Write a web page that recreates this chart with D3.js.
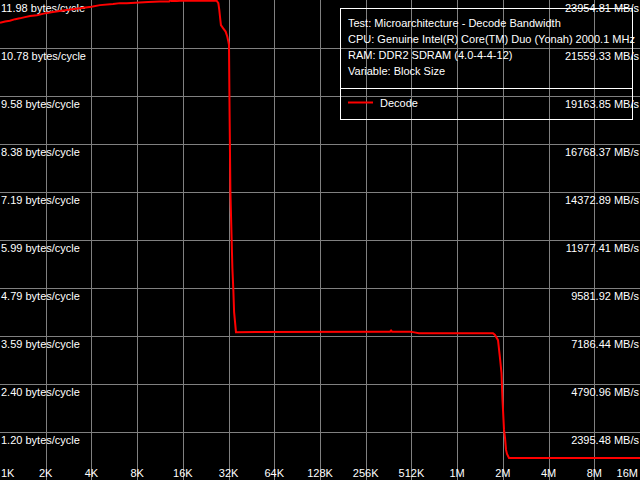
<!DOCTYPE html>
<html>
<head>
<meta charset="utf-8">
<script src="https://cdn.jsdelivr.net/npm/d3@7"></script>
<style>
  html, body { margin: 0; padding: 0; background: #000; }
  svg { display: block; }
  text { font-family: "Liberation Sans", Arial, sans-serif; font-size: 11px; fill: #fff; }
</style>
</head>
<body>
<svg id="chart" width="640" height="480"></svg>
<script>
// ---- data ----
const xTickSizesKB = [1, 2, 4, 8, 16, 32, 64, 128, 256, 512, 1024, 2048, 4096, 8192, 16384];
const xTickLabels = ["1K", "2K", "4K", "8K", "16K", "32K", "64K", "128K", "256K", "512K", "1M", "2M", "4M", "8M", "16M"];
const yTickValues = [11.978, 10.780, 9.582, 8.384, 7.186, 5.989, 4.791, 3.593, 2.396, 1.198];
const yLeftLabels = ["11.98 bytes/cycle", "10.78 bytes/cycle", "9.58 bytes/cycle", "8.38 bytes/cycle", "7.19 bytes/cycle",
                     "5.99 bytes/cycle", "4.79 bytes/cycle", "3.59 bytes/cycle", "2.40 bytes/cycle", "1.20 bytes/cycle"];
const yRightLabels = ["23954.81 MB/s", "21559.33 MB/s", "19163.85 MB/s", "16768.37 MB/s", "14372.89 MB/s",
                      "11977.41 MB/s", "9581.92 MB/s", "7186.44 MB/s", "4790.96 MB/s", "2395.48 MB/s"];
const legendInfo = ["Test: Microarchitecture - Decode Bandwidth",
                    "CPU: Genuine Intel(R) Core(TM) Duo (Yonah) 2000.1 MHz",
                    "RAM: DDR2 SDRAM (4.0-4-4-12)",
                    "Variable: Block Size"];
const seriesName = "Decode";
// block size (KB) and bandwidth (bytes/cycle)
const blockSizesKB = [1, 1.08, 1.16, 1.26, 1.35, 1.46, 1.58, 1.75, 2.0, 2.23, 2.75, 3.36, 4.0, 4.55, 5.55, 6.17,
  6.83, 9.47, 11.3, 13.0, 13.2, 13.5, 14.6, 15.3, 26.7, 27.4, 27.8, 28.1, 28.5, 29.5, 30.6, 31.4, 31.9,
  32.2, 32.5, 32.9, 33.4, 33.9, 34.4, 34.8, 35.3, 35.8, 318, 370, 376, 382, 505, 524, 574, 1763, 1818, 1903,
  1961, 2006, 2037, 2084, 2116, 2149, 2181, 2248, 16384];
const decodeValues = [11.41, 11.44, 11.46, 11.50, 11.52, 11.55, 11.58, 11.60, 11.65, 11.68, 11.73, 11.77, 11.81, 11.85, 11.88, 11.90,
  11.90, 11.93, 11.94, 11.94, 11.97, 11.95, 11.95, 11.96, 11.96, 11.90, 11.73, 11.56, 11.35, 11.27, 11.19, 11.06, 10.94,
  10.86, 9.11, 7.19, 6.24, 5.29, 4.74, 4.19, 3.94, 3.69, 3.70, 3.70, 3.73, 3.70, 3.70, 3.69, 3.66, 3.66, 3.62, 3.49,
  3.04, 2.67, 2.00, 1.25, 1.05, 0.75, 0.65, 0.55, 0.55];

// ---- drawing ----
const W = 640, H = 480;
const svg = d3.select("#chart");
svg.append("rect").attr("width", W).attr("height", H).attr("fill", "#000");

const x = d3.scaleLog().base(2).domain([1, 16384]).range([0, W]);
const y = d3.scaleLinear().domain([0, 11.978]).range([H, 0]);

// grid
const grid = svg.append("g").attr("stroke", "#808080").attr("stroke-width", 1).attr("shape-rendering", "crispEdges");
xTickSizesKB.slice(1, -1).forEach(v => {
  const px = Math.round(x(v)) + 0.5;
  grid.append("line").attr("x1", px).attr("x2", px).attr("y1", 0).attr("y2", H);
});
yTickValues.slice(1).forEach(v => {
  const py = Math.round(y(v)) + 0.5;
  grid.append("line").attr("x1", 0).attr("x2", W).attr("y1", py).attr("y2", py);
});

// y labels
yTickValues.forEach((v, i) => {
  const py = Math.round(y(v));
  svg.append("text").attr("x", 1).attr("y", py + 12).text(yLeftLabels[i]);
  svg.append("text").attr("x", 639).attr("y", py + 12).attr("text-anchor", "end").text(yRightLabels[i]);
});

// x labels
xTickSizesKB.forEach((v, i) => {
  const px = x(v);
  let anchor = "middle", tx = px;
  if (i === 0) { anchor = "start"; tx = 1; }
  else if (i === xTickSizesKB.length - 1) { anchor = "end"; tx = 638; }
  svg.append("text").attr("x", tx).attr("y", 477).attr("text-anchor", anchor).text(xTickLabels[i]);
});

// series line
const line = d3.line().x((d, i) => x(blockSizesKB[i])).y(d => y(d)).curve(d3.curveLinear);
svg.append("path").datum(decodeValues)
  .attr("d", line)
  .attr("fill", "none")
  .attr("stroke", "#ff0000")
  .attr("stroke-width", 2)
  .attr("stroke-linejoin", "miter");

// legend box
const lg = svg.append("g");
lg.append("rect").attr("x", 340.5).attr("y", 8.5).attr("width", 292).attr("height", 111)
  .attr("fill", "none").attr("stroke", "#fff").attr("stroke-width", 1);
lg.append("line").attr("x1", 340.5).attr("x2", 632.5).attr("y1", 88.5).attr("y2", 88.5)
  .attr("stroke", "#fff").attr("stroke-width", 1);
legendInfo.forEach((t, i) => {
  lg.append("text").attr("x", 348).attr("y", 27 + i * 16).text(t);
});
lg.append("line").attr("x1", 348).attr("x2", 373).attr("y1", 102.5).attr("y2", 102.5)
  .attr("stroke", "#ff0000").attr("stroke-width", 2);
lg.append("text").attr("x", 380).attr("y", 107).text(seriesName);
</script>
</body>
</html>
